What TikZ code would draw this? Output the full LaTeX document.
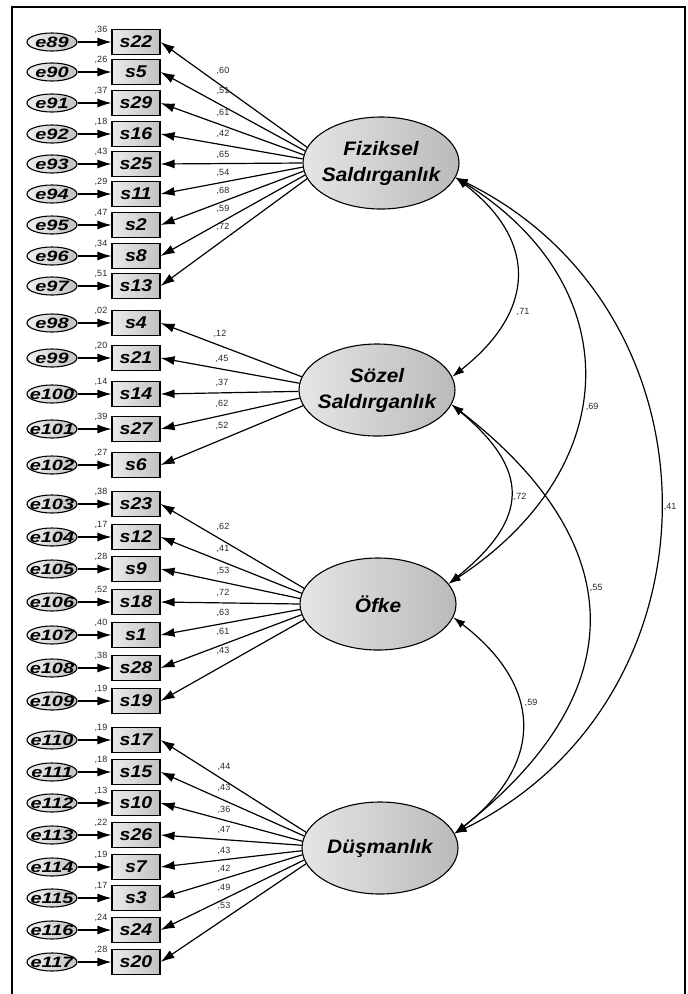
\documentclass[tikz,border=0pt]{standalone}
\usepackage{fontspec}
\setmainfont{Liberation Sans}
\usepackage{graphicx}
\usetikzlibrary{arrows.meta,shapes.geometric}

\newcommand{\escale}[1]{\scalebox{1.33}[1]{#1}}
\newcommand{\oscale}[1]{\scalebox{1.15}[1]{#1}}
\newcommand{\lscale}[1]{\scalebox{1.07}[1]{#1}}
\newcommand{\lattwo}[2]{\scalebox{1.07}[1]{\begin{tabular}{@{}c@{}}#1\\#2\end{tabular}}}

\tikzset{
  errnode/.style={ellipse, draw, line width=1.1pt, minimum width=50pt, minimum height=18pt,
    inner sep=0pt, left color=black!6, right color=black!24},
  elabel/.style={font=\fontsize{15}{15}\selectfont\bfseries\itshape, inner sep=0pt},
  obsnode/.style={rectangle, draw, line width=1.1pt, minimum width=48pt, minimum height=25pt,
    inner sep=0pt, left color=black!8, right color=black!24,
    font=\fontsize{17}{17}\selectfont\bfseries\itshape},
  latnode/.style={ellipse, draw, line width=1.1pt, minimum width=156pt, minimum height=92pt,
    inner sep=0pt, left color=black!10, right color=black!27},
  latlabel/.style={font=\fontsize{19.5}{26}\selectfont\bfseries\itshape, inner sep=0pt},
  arr/.style={-{Latex[length=14pt,width=9pt]}, line width=1.2pt},
  cov/.style={{Latex[length=12pt,width=8pt]}-{Latex[length=12pt,width=8pt]}, line width=1.2pt},
  num/.style={font=\fontsize{9}{9}\selectfont, inner sep=0pt, text=black!85},
}

% #1 e name, #2 s name, #3 y, #4 r2, #5 latent, #6 angle, #7 loading, #8 lx, #9 ly
\newcommand{\itemrow}[9]{%
  \node[errnode, label={[elabel]center:\escale{#1}}] (#1) at (52,#3) {};
  \node[obsnode] (#2) at (136,#3) {\oscale{#2}};
  \draw[arr] (#1) -- (#2);
  \node[num] at (101,#3-12) {#4};
  \draw[arr] (#5.#6) -- (#2.east);
  \node[num] at (#8,#9) {#7};
}

\begin{document}
\begin{tikzpicture}[x=1pt,y=-1pt]
\useasboundingbox (0,0) rectangle (688,994);
\draw[line width=1.3pt] (12,1000) -- (12,7) -- (685,7) -- (685,1000);

% latent variables
\node[latnode, label={[latlabel]center:\lattwo{Fiziksel}{Saldırganlık}}] (F) at (381,163) {};
\node[latnode, label={[latlabel]center:\lattwo{Sözel}{Saldırganlık}}] (S) at (377,390) {};
\node[latnode, label={[latlabel]center:\lscale{Öfke}}] (O) at (378,604) {};
\node[latnode, label={[latlabel]center:\lscale{Düşmanlık}}] (D) at (380,848) {};

% Fiziksel
\itemrow{e89}{s22}{42}{,36}{F}{168}{,60}{223}{71}
\itemrow{e90}{s5}{72}{,26}{F}{171}{,51}{223}{91}
\itemrow{e91}{s29}{103}{,37}{F}{174}{,61}{223}{113}
\itemrow{e92}{s16}{134}{,18}{F}{177}{,42}{223}{134}
\itemrow{e93}{s25}{164}{,43}{F}{180}{,65}{223}{155}
\itemrow{e94}{s11}{194}{,29}{F}{183}{,54}{223}{173}
\itemrow{e95}{s2}{225}{,47}{F}{186}{,68}{223}{191}
\itemrow{e96}{s8}{256}{,34}{F}{189}{,59}{223}{209}
\itemrow{e97}{s13}{286}{,51}{F}{192}{,72}{223}{227}

% Sözel
\itemrow{e98}{s4}{323}{,02}{S}{170}{,12}{220}{334}
\itemrow{e99}{s21}{358}{,20}{S}{175}{,45}{222}{359}
\itemrow{e100}{s14}{394}{,14}{S}{181}{,37}{222}{383}
\itemrow{e101}{s27}{429}{,39}{S}{186}{,62}{222}{404}
\itemrow{e102}{s6}{465}{,27}{S}{192}{,52}{222}{426}

% Öfke
\itemrow{e103}{s23}{504}{,38}{O}{168}{,62}{223}{527}
\itemrow{e104}{s12}{537}{,17}{O}{172}{,41}{223}{549}
\itemrow{e105}{s9}{569}{,28}{O}{176}{,53}{223}{571}
\itemrow{e106}{s18}{602}{,52}{O}{180}{,72}{223}{593}
\itemrow{e107}{s1}{635}{,40}{O}{184}{,63}{223}{613}
\itemrow{e108}{s28}{668}{,38}{O}{188}{,61}{223}{632}
\itemrow{e109}{s19}{701}{,19}{O}{192}{,43}{223}{651}

% Düşmanlık
\itemrow{e110}{s17}{740}{,19}{D}{168}{,44}{224}{767}
\itemrow{e111}{s15}{772}{,18}{D}{171}{,43}{224}{788}
\itemrow{e112}{s10}{803}{,13}{D}{175}{,36}{224}{810}
\itemrow{e113}{s26}{835}{,22}{D}{178}{,47}{224}{830}
\itemrow{e114}{s7}{867}{,19}{D}{182}{,43}{224}{851}
\itemrow{e115}{s3}{898}{,17}{D}{185}{,42}{224}{869}
\itemrow{e116}{s24}{930}{,24}{D}{189}{,49}{224}{888}
\itemrow{e117}{s20}{962}{,28}{D}{192}{,53}{224}{906}

% covariances
\draw[cov] (F.-11) .. controls (537,240) and (537,310) .. (S.10);
\draw[cov] (F.-11) .. controls (627,284) and (627,466) .. (O.16);
\draw[cov] (F.-11) .. controls (728,311) and (728,699) .. (D.11);
\draw[cov] (S.-11) .. controls (530,470) and (530,518) .. (O.16);
\draw[cov] (S.-11) .. controls (633,545) and (633,693) .. (D.11);
\draw[cov] (O.-10) .. controls (544,687) and (544,764) .. (D.11);

\node[num] at (523,312) {,71};
\node[num] at (592,407) {,69};
\node[num] at (520,497) {,72};
\node[num] at (670,507) {,41};
\node[num] at (596,588) {,55};
\node[num] at (531,703) {,59};
\end{tikzpicture}
\end{document}
